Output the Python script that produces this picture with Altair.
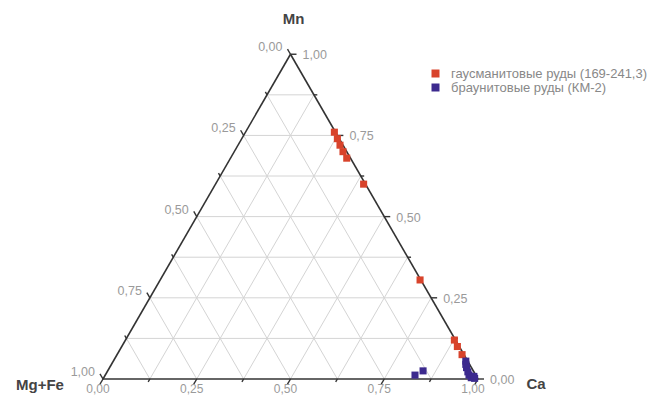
import altair as alt
import pandas as pd
import numpy as np

# ---- data (ternary fractions) ----
red_mn   = [0.76, 0.74, 0.72, 0.70, 0.68, 0.60, 0.305, 0.12, 0.10, 0.075]
red_ca   = [0.237, 0.255, 0.272, 0.29, 0.31, 0.395, 0.693, 0.877, 0.895, 0.92]
red_mgfe = [0.003, 0.005, 0.008, 0.01, 0.01, 0.005, 0.002, 0.003, 0.005, 0.005]

blue_mn   = [0.012, 0.025, 0.055, 0.045, 0.035, 0.022, 0.012, 0.004, 0.002, 0.008]
blue_ca   = [0.826, 0.841, 0.94, 0.945, 0.952, 0.962, 0.97, 0.98, 0.99, 0.985]
blue_mgfe = [0.162, 0.134, 0.005, 0.01, 0.013, 0.016, 0.018, 0.016, 0.008, 0.007]

series_names = ["гаусманитовые руды (169-241,3)", "браунитовые руды  (КМ-2)"]
series_colors = ["#d8432b", "#3c2a8e"]

tick_values = [0.0, 0.25, 0.5, 0.75, 1.0]
tick_text = ["0,00", "0,25", "0,50", "0,75", "1,00"]
corner_names = ["Mn", "Mg+Fe", "Ca"]

S3 = np.sqrt(3) / 2


def tern(mn, ca):
    # X to the right (Ca corner), Y upward (Mn corner)
    return ca + mn / 2.0, mn * S3


# ---- points ----
rows = []
for name, mns, cas in [(series_names[0], red_mn, red_ca), (series_names[1], blue_mn, blue_ca)]:
    for mn, ca in zip(mns, cas):
        x, y = tern(mn, ca)
        rows.append({"x": x, "y": y, "series": name})
pts = pd.DataFrame(rows)

# ---- grid ----
grid = []
for k in range(1, 8):
    c = k / 8
    x1, y1 = tern(c, 0); x2, y2 = tern(c, 1 - c)
    grid.append({"x": x1, "y": y1, "x2": x2, "y2": y2})
    x1, y1 = tern(0, c); x2, y2 = tern(1 - c, c)
    grid.append({"x": x1, "y": y1, "x2": x2, "y2": y2})
    x1, y1 = tern(0, 1 - c); x2, y2 = tern(1 - c, 0)
    grid.append({"x": x1, "y": y1, "x2": x2, "y2": y2})
grid = pd.DataFrame(grid)

edges = pd.DataFrame([
    {"x": 0.0, "y": 0.0, "x2": 1.0, "y2": 0.0},
    {"x": 0.0, "y": 0.0, "x2": 0.5, "y2": S3},
    {"x": 1.0, "y": 0.0, "x2": 0.5, "y2": S3},
])

# ---- ticks ----
ticks = []
for k in range(0, 9):
    v = k / 8
    L = 0.016 if k % 2 == 0 else 0.009
    x, y = tern(v, 1 - v)
    ticks.append({"x": x, "y": y, "x2": x + L, "y2": y})
    x, y = tern(0, v)
    ticks.append({"x": x, "y": y, "x2": x - 0.5 * L, "y2": y - S3 * L})
    x, y = tern(1 - v, 0)
    ticks.append({"x": x, "y": y, "x2": x - 0.5 * L, "y2": y + S3 * L})
ticks = pd.DataFrame(ticks)

# ---- tick labels ----
left_lab, right_lab, bot_lab = [], [], []
for v, t in zip(tick_values, tick_text):
    x, y = tern(1 - v, 0)
    left_lab.append({"x": x, "y": y, "t": t})
    x, y = tern(v, 1 - v)
    right_lab.append({"x": x, "y": y, "t": t})
    x, y = tern(0, v)
    bot_lab.append({"x": x, "y": y, "t": t})
left_lab = pd.DataFrame(left_lab)
right_lab = pd.DataFrame(right_lab)
bot_lab = pd.DataFrame(bot_lab)

# ---- scales: 375 px per unit ----
W, H = 643, 387
x0 = -95 / 375
xs = alt.Scale(domain=[x0, x0 + W / 375], nice=False, zero=False)
y1d = 371 / 375
ys = alt.Scale(domain=[y1d - H / 375, y1d], nice=False, zero=False)

X = alt.X("x:Q", scale=xs, axis=None)
Y = alt.Y("y:Q", scale=ys, axis=None)
X2 = alt.X2("x2:Q")
Y2 = alt.Y2("y2:Q")

font = "Liberation Sans"

grid_l = alt.Chart(grid).mark_rule(color="#d4d4d4", strokeWidth=1).encode(X, Y, X2, Y2)
edge_l = alt.Chart(edges).mark_rule(color="#333333", strokeWidth=1.6).encode(X, Y, X2, Y2)
tick_l = alt.Chart(ticks).mark_rule(color="#333333", strokeWidth=1.4).encode(X, Y, X2, Y2)

lab_style = dict(font=font, fontSize=12.5, color="#9a9a9a", baseline="middle")
left_t = alt.Chart(left_lab).mark_text(align="right", dx=-8, dy=-7, **lab_style).encode(X, Y, text="t:N")
right_t = alt.Chart(right_lab).mark_text(align="left", dx=12, dy=1, **lab_style).encode(X, Y, text="t:N")
bot_t = alt.Chart(bot_lab).mark_text(align="center", dx=-5, dy=10, font=font, fontSize=12,
                                     color="#9a9a9a", baseline="middle").encode(X, Y, text="t:N")

corner_style = dict(font=font, fontSize=15, fontWeight="bold", color="#444444", baseline="middle", align="center")
cx, cy = tern(1, 0)
mn_t = alt.Chart(pd.DataFrame([{"x": cx, "y": cy, "t": corner_names[0]}])).mark_text(dx=3, dy=-35, **corner_style).encode(X, Y, text="t:N")
cx, cy = tern(0, 0)
mg_t = alt.Chart(pd.DataFrame([{"x": cx, "y": cy, "t": corner_names[1]}])).mark_text(dx=-63, dy=6, **corner_style).encode(X, Y, text="t:N")
cx, cy = tern(0, 1)
ca_t = alt.Chart(pd.DataFrame([{"x": cx, "y": cy, "t": corner_names[2]}])).mark_text(dx=58, dy=5, **corner_style).encode(X, Y, text="t:N")

pts_l = alt.Chart(pts).mark_square(size=50, opacity=1).encode(
    X, Y,
    color=alt.Color(
        "series:N",
        scale=alt.Scale(domain=series_names, range=series_colors),
        legend=alt.Legend(
            title=None, orient="none", legendX=421, legendY=59,
            symbolType="square", symbolSize=64, symbolStrokeWidth=0,
            labelFont=font, labelFontSize=13, labelColor="#888888",
            labelLimit=400, rowPadding=-2, padding=0, labelOffset=9,
        ),
    ),
)

chart = alt.layer(
    grid_l, edge_l, tick_l, left_t, right_t, bot_t, mn_t, mg_t, ca_t, pts_l
).properties(
    width=W, height=H, padding=0,
    autosize=alt.AutoSizeParams(type="none"),
).configure_view(stroke=None)

chart.save("out.html", embed_options={"renderer": "svg", "actions": False})
